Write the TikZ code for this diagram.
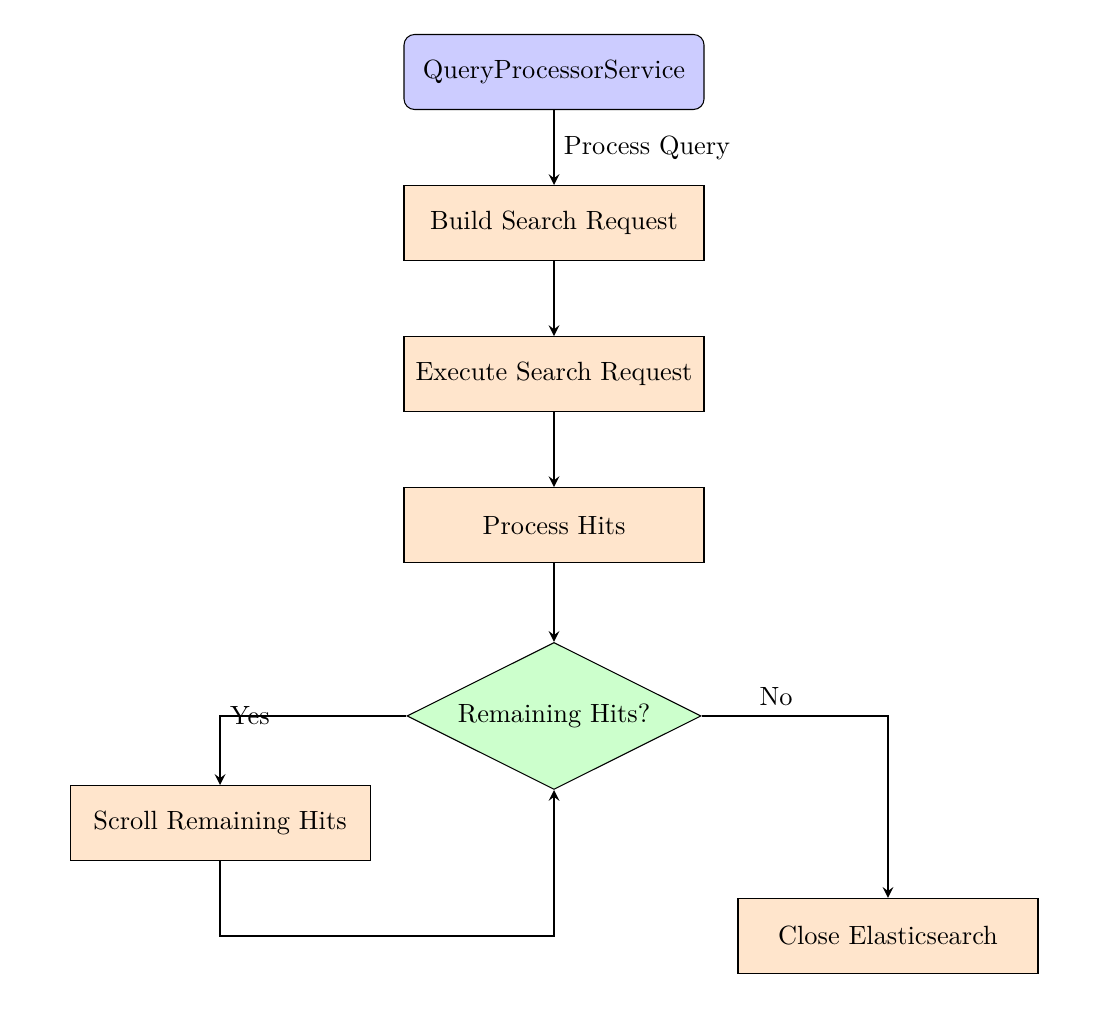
\documentclass[tikz,border=0pt]{standalone}
\usepackage{amsmath}
\usepackage{xcolor}
\usepackage{tikz}
\usetikzlibrary{positioning}
\usetikzlibrary{shapes.geometric}

\begin{document}
\begin{tikzpicture}[node distance=1cm, >=stealth,
  startbox/.style={rectangle, rounded corners, draw, fill=blue!20, minimum width=4cm, minimum height=1cm},
  process/.style={rectangle, draw, fill=orange!20, minimum width=4cm, minimum height=1cm},
  decision/.style={diamond, draw, fill=green!20, aspect=2, minimum width=3.92cm, minimum height=1.96cm, inner sep=1pt},
  arrow/.style={thick, ->}]
  \useasboundingbox (0,0) rectangle (14.88,-13.787);
  \node[startbox] (qps) at (7.387,-0.96) {QueryProcessorService};
  \node[process, below=of qps] (build) {Build Search Request};
  \node[process, below=of build] (execute) {Execute Search Request};
  \node[process, below=of execute] (hits) {Process Hits};
  \node[decision, below=1.05cm of hits] (remaining) {Remaining Hits?};
  \node[process] (scroll) at ([xshift=-4.453cm, yshift=-1.427cm]remaining) {Scroll Remaining Hits};
  \node[process] (close) at ([xshift=4.453cm, yshift=-2.933cm]remaining) {Close Elasticsearch};

  \draw[arrow] (qps) -- node[right] {Process Query} (build);
  \draw[arrow] (build) -- (execute);
  \draw[arrow] (execute) -- (hits);
  \draw[arrow] (hits) -- (remaining);
  \draw[arrow] (remaining.west) -| node[pos=0.42] {Yes} (scroll.north);
  \draw[arrow] (remaining.east) -| node[pos=0.2, above] {No} (close.north);
  \draw[arrow] (scroll.south) -- ++(0,-1) -| (remaining.south);
\end{tikzpicture}
\end{document}
